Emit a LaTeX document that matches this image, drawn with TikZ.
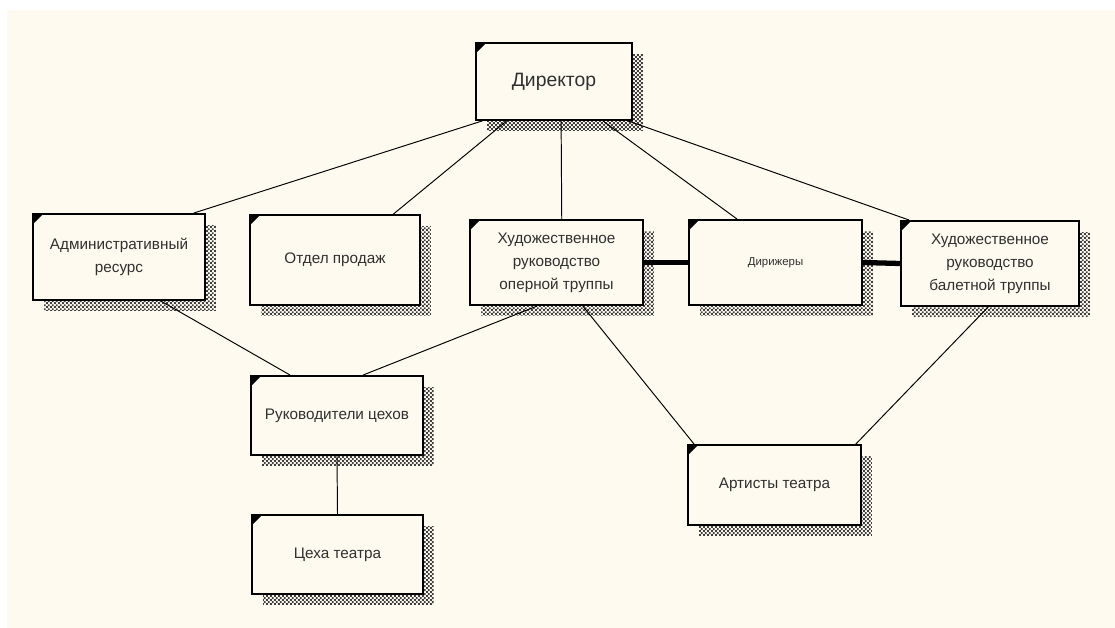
\documentclass[tikz,border=0pt]{standalone}
\usepackage{fontspec}
\setmainfont{Liberation Sans}
\usepackage{tikz}
\usetikzlibrary{calc,shadows,patterns.meta}
\definecolor{paper}{HTML}{FFFAF0}
\definecolor{ink}{HTML}{303030}
\definecolor{hatch}{HTML}{404040}
\tikzdeclarepattern{
  name=dither, type=uncolored,
  bounding box={(0,0) and (2.2pt,2.2pt)},
  tile size={(2.2pt,2.2pt)},
  code={\fill (0,0) rectangle (1.1pt,1.1pt); \fill (1.1pt,1.1pt) rectangle (2.2pt,2.2pt);}
}
\tikzset{
  unit/.style={draw, line width=1.1pt, fill=paper, text=ink, align=center, inner sep=0pt,
    font=\fontsize{8.7pt}{13pt}\selectfont,
    drop shadow={shadow xshift=0.22cm, shadow yshift=-0.22cm, fill=none, opacity=1,
      pattern={dither}, pattern color=hatch}},
  link/.style={draw, line width=0.55pt},
  bond/.style={draw, line width=3pt}
}

\begin{document}
\begin{tikzpicture}[x=0.02cm, y=-0.02cm]
  \useasboundingbox (0,0) rectangle (1115,628);
  \fill[white] (0,0) rectangle (1115,628);
  \fill[paper] (7,10) rectangle (1115,628);

  \node[unit, minimum width=3.12cm, minimum height=1.54cm, font=\fontsize{11pt}{13pt}\selectfont] (dir) at (554,81.5) {Директор};
  \node[unit, minimum width=3.44cm, minimum height=1.72cm] (adm) at (119,257) {Административный\\ресурс};
  \node[unit, minimum width=3.40cm, minimum height=1.80cm] (sales) at (335,260) {Отдел продаж};
  \node[unit, minimum width=3.46cm, minimum height=1.70cm] (opera) at (556.5,262.5) {Художественное\\руководство\\оперной труппы};
  \node[unit, minimum width=3.46cm, minimum height=1.70cm, font=\fontsize{6.5pt}{8pt}\selectfont] (cond) at (775.5,262.5) {Дирижеры};
  \node[unit, minimum width=3.56cm, minimum height=1.70cm] (ballet) at (990,263.5) {Художественное\\руководство\\балетной труппы};
  \node[unit, minimum width=3.44cm, minimum height=1.58cm] (heads) at (337,415.5) {Руководители цехов};
  \node[unit, minimum width=3.42cm, minimum height=1.58cm] (shops) at (337.5,554.5) {Цеха театра};
  \node[unit, minimum width=3.46cm, minimum height=1.60cm] (artists) at (774.5,485) {Артисты театра};

  \foreach \n in {dir,adm,sales,opera,cond,ballet,heads,shops,artists}
    \fill ([shift={(0.02cm,-0.02cm)}]\n.north west) -- ++(0.2cm,0) -- ++(-0.2cm,-0.2cm) -- cycle;

  \draw[link] ($(dir.south west)!.045!(dir.south east)$) -- ($(adm.north west)!.93!(adm.north east)$);
  \draw[link] ($(dir.south west)!.2!(dir.south east)$) -- ($(sales.north west)!.84!(sales.north east)$);
  \draw[link] ($(dir.south west)!.545!(dir.south east)$) -- ($(opera.north west)!.53!(opera.north east)$);
  \draw[link] ($(dir.south west)!.81!(dir.south east)$) -- ($(cond.north west)!.28!(cond.north east)$);
  \draw[link] ($(dir.south west)!.97!(dir.south east)$) -- ($(ballet.north west)!.05!(ballet.north east)$);

  \draw[bond] (opera.east) -- (cond.west);
  \draw[bond] (cond.east) -- (ballet.west);

  \draw[link] ($(adm.south west)!.74!(adm.south east)$) -- ($(heads.north west)!.23!(heads.north east)$);
  \draw[link] ($(opera.south west)!.39!(opera.south east)$) -- ($(heads.north west)!.65!(heads.north east)$);
  \draw[link] ($(opera.south west)!.65!(opera.south east)$) -- ($(artists.north west)!.04!(artists.north east)$);
  \draw[link] ($(ballet.south west)!.49!(ballet.south east)$) -- ($(artists.north west)!.965!(artists.north east)$);
  \draw[link] (heads.south) -- (shops.north);
\end{tikzpicture}
\end{document}
